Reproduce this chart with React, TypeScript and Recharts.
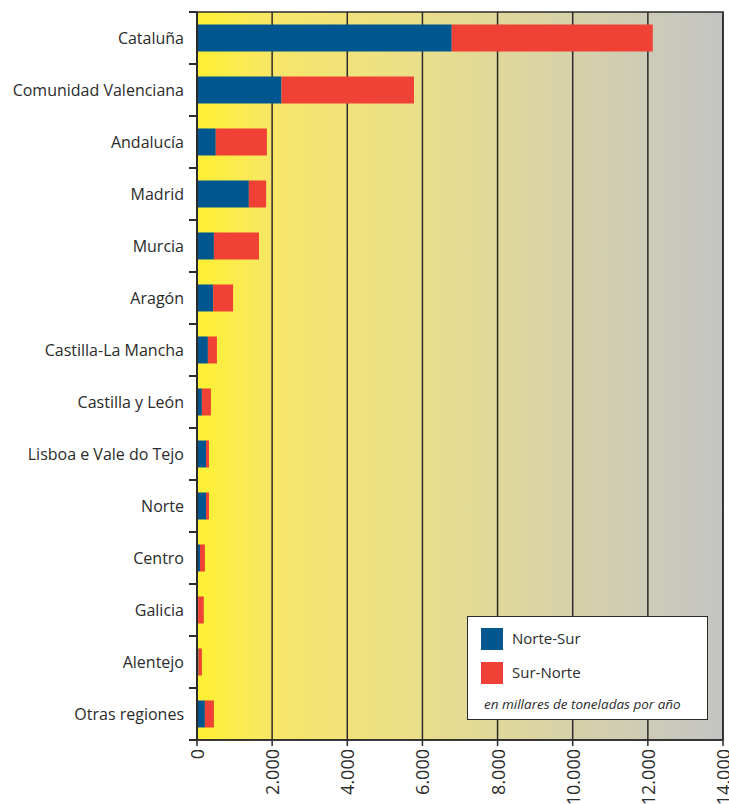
import React from "react"
import {
  BarChart,
  Bar,
  XAxis,
  YAxis,
  CartesianGrid,
  ReferenceArea,
  Legend,
} from "recharts"

// regiones (de arriba a abajo)
const regions = [
  "Cataluña",
  "Comunidad Valenciana",
  "Andalucía",
  "Madrid",
  "Murcia",
  "Aragón",
  "Castilla-La Mancha",
  "Castilla y León",
  "Lisboa e Vale do Tejo",
  "Norte",
  "Centro",
  "Galicia",
  "Alentejo",
  "Otras regiones",
]

// miles de toneladas por año
const norteSur = [6780, 2250, 500, 1380, 450, 430, 290, 130, 240, 240, 80, 30, 40, 210]
const surNorte = [5350, 3525, 1360, 460, 1200, 530, 240, 240, 80, 80, 130, 150, 90, 240]

const xTicks = [0, 2000, 4000, 6000, 8000, 10000, 12000, 14000]

const data = regions.map((name, i) => ({
  name,
  norteSur: norteSur[i],
  surNorte: surNorte[i],
}))

const BLUE = "#00568f"
const RED = "#ef4135"
const INK = "#2b2b2b"
const FONT = "'Open Sans', sans-serif"

const WIDTH = 729
const HEIGHT = 804
const TOP = 12
const BOTTOM = 64
const LEFT = 197
const HALF_BAND = (HEIGHT - TOP - BOTTOM) / regions.length / 2

const fmt = (v: number) => v.toLocaleString("de-DE")

// etiqueta de región + marca en el límite de cada banda
const RegionTick = (props: any) => {
  const { y, payload, index } = props
  const last = index === regions.length - 1
  return (
    <g>
      <path
        d={`M${LEFT - 8},${y - HALF_BAND}H${LEFT}` + (last ? `M${LEFT - 8},${y + HALF_BAND}H${LEFT}` : "")}
        stroke={INK}
        strokeWidth={2}
        fill="none"
      />
      <text
        x={LEFT - 13}
        y={y}
        textAnchor="end"
        dominantBaseline="central"
        fill={INK}
        fontSize={16}
        fontFamily={FONT}
      >
        {payload.value}
      </text>
    </g>
  )
}

const ValueTick = (props: any) => {
  const { x, y, payload } = props
  const ty = y + 1
  return (
    <text
      x={x}
      y={ty}
      transform={`rotate(-90, ${x}, ${ty})`}
      textAnchor="end"
      dominantBaseline="central"
      fill={INK}
      fontSize={18}
      fontFamily={FONT}
    >
      {fmt(payload.value)}
    </text>
  )
}

const LegendBox = () => (
  <div
    style={{
      position: "relative",
      width: 241,
      height: 104,
      boxSizing: "border-box",
      background: "#fff",
      border: `1.5px solid ${INK}`,
      fontFamily: FONT,
      color: INK,
    }}
  >
    <div style={{ position: "absolute", left: 13, top: 11, width: 22, height: 22, background: BLUE }} />
    <div style={{ position: "absolute", left: 44, top: 10, fontSize: 15, lineHeight: "22px" }}>Norte-Sur</div>
    <div style={{ position: "absolute", left: 13, top: 45, width: 22, height: 22, background: RED }} />
    <div style={{ position: "absolute", left: 44, top: 44, fontSize: 15, lineHeight: "22px" }}>Sur-Norte</div>
    <div style={{ position: "absolute", left: 16, top: 78, fontSize: 13.5, fontStyle: "italic", lineHeight: "18px" }}>
      en millares de toneladas por año
    </div>
  </div>
)

export default function App() {
  return (
    <div style={{ position: "absolute", left: 0, top: 0, width: WIDTH, height: HEIGHT, background: "#fff" }}>
      <BarChart
        width={WIDTH}
        height={HEIGHT}
        data={data}
        layout="vertical"
        margin={{ top: TOP, right: 6, left: 0, bottom: 0 }}
        barCategoryGap="24%"
      >
        <defs>
          <linearGradient id="bg" x1="0" y1="0" x2="1" y2="0">
            <stop offset="0%" stopColor="#fff033" />
            <stop offset="15%" stopColor="#f6e66a" />
            <stop offset="40%" stopColor="#ebdf88" />
            <stop offset="70%" stopColor="#d7d2a8" />
            <stop offset="100%" stopColor="#c4c4c4" />
          </linearGradient>
        </defs>
        <CartesianGrid horizontal={false} fill="url(#bg)" fillOpacity={1} stroke={INK} strokeWidth={1.5} />
        <XAxis
          type="number"
          domain={[0, 14000]}
          ticks={xTicks}
          interval={0}
          height={BOTTOM}
          tick={<ValueTick />}
          tickSize={6}
          tickLine={{ stroke: INK, strokeWidth: 1.5 }}
          axisLine={{ stroke: INK, strokeWidth: 1.5 }}
        />
        <YAxis
          type="category"
          dataKey="name"
          width={LEFT}
          interval={0}
          tickLine={false}
          tick={<RegionTick />}
          axisLine={{ stroke: INK, strokeWidth: 2 }}
        />
        <ReferenceArea x1={0} x2={14000} fill="none" stroke={INK} strokeWidth={1.5} />
        <Legend
          layout="horizontal"
          verticalAlign="middle"
          align="center"
          content={() => <LegendBox />}
          wrapperStyle={{ left: 467, top: 616, width: 241, height: 104 }}
        />
        <Bar dataKey="norteSur" name="Norte-Sur" stackId="a" fill={BLUE} isAnimationActive={false} />
        <Bar dataKey="surNorte" name="Sur-Norte" stackId="a" fill={RED} isAnimationActive={false} />
      </BarChart>
    </div>
  )
}
